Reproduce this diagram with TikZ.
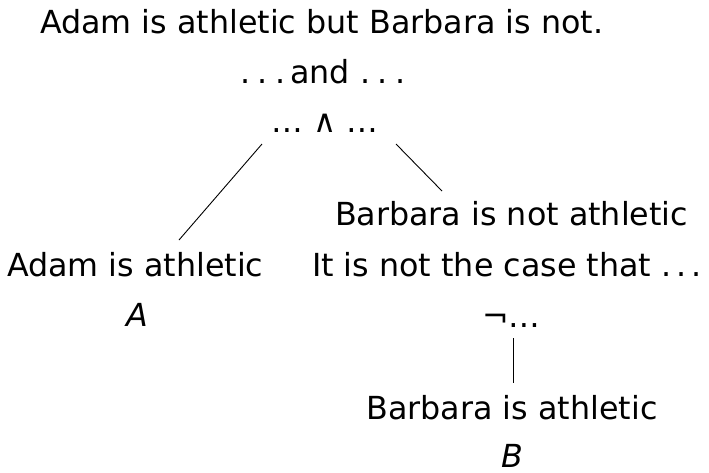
\documentclass[tikz,border=0pt]{standalone}
\usepackage{fontspec}
\setmainfont{DejaVu Sans}[ItalicFont={DejaVu Sans Oblique}]
\newcommand{\spdots}[1]{.\kern#1.\kern#1.}
\begin{document}
\begin{tikzpicture}[x=1pt,y=-1pt,
  lbl/.style={inner sep=0pt,outer sep=0pt,font=\fontsize{31.75}{38}\selectfont},
  edge/.style={line width=0.9pt,black}]
\useasboundingbox (0,0) rectangle (709,472);
\node[lbl,anchor=base west] (top) at (40,33) {Adam is athletic but Barbara is not.};
\node[lbl,anchor=base west] (and) at (240,83) {\spdots{7.5pt}\kern5pt and\kern10pt\spdots{7.5pt}};
\node[lbl,anchor=base] (wedge) at (325,132) {… ∧ …};
\node[lbl,anchor=base west] (barbnot) at (335,225) {Barbara is not athletic};
\node[lbl,anchor=base west] (adam) at (7,276) {Adam is athletic};
\node[lbl,anchor=base west] (itis) at (312,276) {It is not the case that \spdots{5pt}};
\node[lbl,anchor=base] (A) at (137,326) {\textit{A}};
\node[lbl,anchor=base west] (neg) at (482,327) {¬…};
\node[lbl,anchor=base] (barbath) at (512,419) {Barbara is athletic};
\node[lbl,anchor=base] (B) at (512,467) {\textit{B}};
\coordinate (wl) at (262,144);
\coordinate (al) at (179,240);
\coordinate (wr) at (396,144);
\coordinate (br) at (442,191);
\coordinate (nt) at (513,338);
\coordinate (bt) at (513,383);
\draw[edge] (wl) -- (al);
\draw[edge] (wr) -- (br);
\draw[edge] (nt) -- (bt);
\end{tikzpicture}
\end{document}
